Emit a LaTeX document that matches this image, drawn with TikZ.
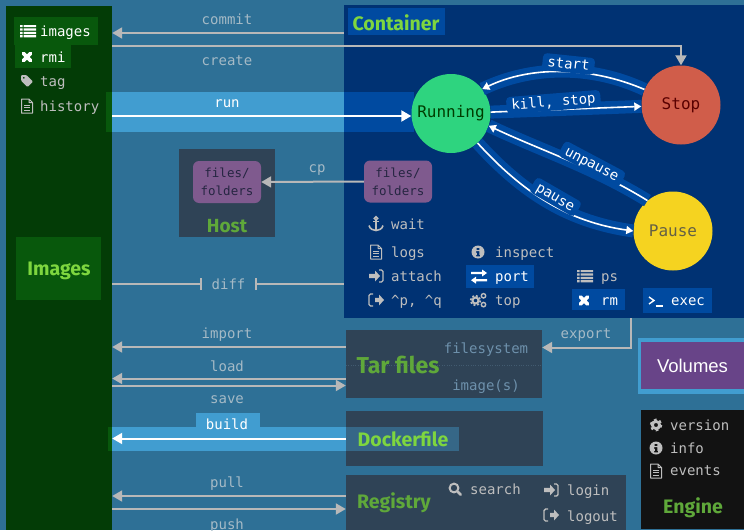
\documentclass[tikz,border=0pt]{standalone}
\usepackage{fontspec}
\setmainfont{Fira Sans}
\newfontfamily\monofam{DejaVu Sans Mono}
\newfontfamily\sansfam{Liberation Sans}
\usetikzlibrary{arrows.meta}
\tikzset{>={Triangle[length=10pt,width=11pt]}}
\definecolor{backblue}{RGB}{46,112,150}
\definecolor{imgdark}{RGB}{3,60,6}
\definecolor{imgmark}{RGB}{8,88,12}
\definecolor{contblue}{RGB}{0,50,115}
\definecolor{markblue}{RGB}{0,74,160}
\definecolor{bandblue}{RGB}{65,157,208}
\definecolor{slate}{RGB}{47,67,86}
\definecolor{purplebox}{RGB}{127,90,142}
\definecolor{volpurple}{RGB}{104,68,136}
\definecolor{darktext}{RGB}{38,38,66}
\definecolor{lgreen}{RGB}{126,214,63}
\definecolor{mgreen}{RGB}{95,168,58}
\definecolor{cmdgray}{RGB}{190,190,190}
\definecolor{linegray}{RGB}{184,184,184}
\definecolor{fadetext}{RGB}{165,186,198}
\definecolor{tarblue}{RGB}{110,145,172}
\definecolor{runfill}{RGB}{46,212,127}
\definecolor{stopfill}{RGB}{208,93,74}
\definecolor{pausefill}{RGB}{245,211,32}
\tikzset{
  region/.style={rectangle,inner sep=0pt,minimum width=#1},
  cmd/.style={font=\monofam\fontsize{14}{16}\selectfont,text=cmdgray,inner sep=0pt,
    text height=13pt,text depth=2pt,anchor=west},
  verb/.style={cmd,text=fadetext,anchor=center},
  title/.style={font=\fontsize{#1}{24}\bfseries\selectfont,inner sep=0pt,text=mgreen},
  state/.style={circle,inner sep=0pt,minimum size=79pt,
    font=\monofam\fontsize{16}{18}\selectfont},
  folders/.style={rectangle,rounded corners=6pt,fill=purplebox,text=darktext,
    minimum width=68pt,minimum height=42pt,inner sep=0pt,align=center,
    font=\monofam\fontsize{12.5}{18}\selectfont},
  greyline/.style={line width=2pt,linegray},
  halo/.style={line width=13pt,markblue},
  whiteline/.style={line width=1.6pt,white,
    >={Triangle[length=7pt,width=8pt]}},
  pill/.style={cmd,text=white,anchor=center,fill=markblue,rounded corners=4pt,
    text height=11pt,inner xsep=5pt,inner ysep=2pt},
  pics/listicon/.style={code={
    \fill (-8,-6) rectangle (-5.5,-3.8) (-4.5,-6) rectangle (8,-3.8);
    \fill (-8,-2.6) rectangle (-5.5,-0.4) (-4.5,-2.6) rectangle (8,-0.4);
    \fill (-8,0.8) rectangle (-5.5,3) (-4.5,0.8) rectangle (8,3);
    \fill (-8,4.2) rectangle (-5.5,6.4) (-4.5,4.2) rectangle (8,6.4);
  }},
  pics/crossicon/.style={code={
    \draw[line width=3.6pt,line cap=round] (-3.6,-3.6) -- (3.6,3.6) (-3.6,3.6) -- (3.6,-3.6);
  }},
  pics/tagicon/.style={code={
    \fill[even odd rule,rounded corners=1pt] (-6,-6) -- (-0.5,-6) -- (6,0.5) -- (0.5,6) -- (-6,-0.5) -- cycle
      (-3.2,-3.2) circle (1.2);
  }},
  pics/docicon/.style={code={
    \draw[line width=1pt,line join=round] (-5.5,-7) -- (2,-7) -- (5.5,-3.5) -- (5.5,7) -- (-5.5,7) -- cycle
      (2,-7) -- (2,-3.5) -- (5.5,-3.5);
    \draw[line width=1pt] (-3,-1) -- (3,-1) (-3,1.5) -- (3,1.5) (-3,4) -- (3,4);
  }},
  pics/infoicon/.style={code={
    \fill[even odd rule] (0,0) circle (6.5) (-1.3,-4.2) rectangle (1.3,-2)
      (-2,-0.8) -- (1.3,-0.8) -- (1.3,2.8) -- (2.2,2.8) -- (2.2,4.4) -- (-2,4.4) -- (-2,2.8) -- (-1.2,2.8) -- (-1.2,0.8) -- (-2,0.8) -- cycle;
  }},
  pics/gearicon/.style={code={
    \draw[line width=2.8pt] (0,0) circle (3.6);
    \draw[line width=2pt,dash pattern=on 2.7pt off 2.95pt] (0,0) circle (5.4);
  }},
  pics/cogsicon/.style={code={
    \draw[line width=2pt] (-2.5,0.5) circle (3);
    \draw[line width=1.6pt,dash pattern=on 2pt off 1.9pt] (-2.5,0.5) circle (5);
    \draw[line width=1.4pt] (5.5,-4.2) circle (2.2) (5.5,4.6) circle (2.2);
  }},
  pics/anchoricon/.style={code={
    \draw[line width=1.5pt] (0,-5.6) circle (1.7);
    \draw[line width=1.6pt] (0,-4) -- (0,6.5) (-3,-2.5) -- (3,-2.5);
    \draw[line width=1.6pt] (-7,1.5) .. controls (-6,5) and (-3,6.5) .. (0,6.5)
      .. controls (3,6.5) and (6,5) .. (7,1.5);
  }},
  pics/signinicon/.style={code={
    \fill (-7,-2.2) -- (-1,-2.2) -- (-1,-5.5) -- (4,0) -- (-1,5.5) -- (-1,2.2) -- (-7,2.2) -- cycle;
    \draw[line width=1.4pt,rounded corners=1.5pt] (3,-6) -- (7,-6) -- (7,6) -- (3,6);
  }},
  pics/signouticon/.style={code={
    \fill (-1,-2.2) -- (3,-2.2) -- (3,-5.5) -- (8,0) -- (3,5.5) -- (3,2.2) -- (-1,2.2) -- cycle;
    \draw[line width=1.4pt,rounded corners=1.5pt] (-3,-6) -- (-7,-6) -- (-7,6) -- (-3,6);
  }},
  pics/swapicon/.style={code={
    \fill (-8,-4.6) -- (3,-4.6) -- (3,-7) -- (8,-3.5) -- (3,0) -- (3,-2.4) -- (-8,-2.4) -- cycle;
    \fill (8,2.6) -- (-3,2.6) -- (-3,0.2) -- (-8,3.7) -- (-3,7.2) -- (-3,4.8) -- (8,4.8) -- cycle;
  }},
  pics/searchicon/.style={code={
    \draw[line width=2pt] (-1,-1) circle (4.4);
    \draw[line width=2.6pt,line cap=round] (2.6,2.6) -- (5.6,5.6);
  }},
  pics/prompticon/.style={code={
    \draw[line width=1.4pt] (-7,-4) -- (-2,-0.5) -- (-7,3);
    \draw[line width=1.4pt] (-0.5,5) -- (7,5);
  }},
}

\begin{document}
\begin{tikzpicture}[x=1pt,y=-1pt]
  \useasboundingbox (0,0) rectangle (744,530);
  \fill[backblue] (0,0) rectangle (744,530);

  % panels
  \node[region=106pt,minimum height=524pt,fill=imgdark] (images) at (59,268) {};
  \node[region=400pt,minimum height=313pt,fill=contblue] (container) at (544,161.5) {};
  \node[region=96pt,minimum height=88pt,fill=slate] (host) at (227,193) {};
  \node[region=196pt,minimum height=68pt,fill=slate] (tar) at (444,364) {};
  \node[region=197pt,minimum height=55pt,fill=slate] (dockerfile) at (444.5,438.5) {};
  \node[region=280pt,minimum height=55pt,fill=slate] (registry) at (486,502.5) {};
  \node[region=103pt,minimum height=119pt,fill=black!93] (engine) at (692.5,469.5) {};
  \node[region=106pt,minimum height=56pt,fill=bandblue] (volouter) at (691,366) {};
  \node[region=103pt,minimum height=47pt,fill=volpurple,text=white,
        font=\sansfam\fontsize{18.5}{20}\selectfont] (volumes) at (692.5,365.5) {Volumes};

  % highlighted strips
  \node[region=6pt,minimum height=40pt,fill=imgmark] (runtail) at (109,112) {};
  \node[region=232pt,minimum height=40pt,fill=bandblue] (runband) at (228,112) {};
  \node[region=70pt,minimum height=40pt,fill=markblue] (runcont) at (379,112) {};
  \node[region=4pt,minimum height=24pt,fill=imgmark] (buildtail) at (110,439) {};
  \node[region=234pt,minimum height=24pt,fill=bandblue] (buildband) at (229,439) {};
  \node[region=64pt,minimum height=15pt,fill=bandblue] (buildtab) at (228,420) {};
  \node[region=113pt,minimum height=24pt,fill=slate!60!bandblue] (dockmark) at (402.5,439) {};
  \node[region=84pt,minimum height=28pt,fill=imgmark] (imagesmark) at (56,31) {};
  \node[region=56pt,minimum height=23pt,fill=imgmark] (rmimark) at (43,56.5) {};
  \node[region=85pt,minimum height=63pt,fill=imgmark] (imagesbox) at (58.5,268.5) {};
  \node[region=97pt,minimum height=27pt,fill=markblue] (contmark) at (396.5,21.5) {};
  \node[region=68pt,minimum height=23pt,fill=markblue] (portmark) at (500,276.5) {};
  \node[region=53pt,minimum height=21pt,fill=markblue] (rmmark) at (598.5,299.5) {};
  \node[region=69pt,minimum height=25pt,fill=markblue] (execmark) at (677.5,300.5) {};
  \draw[slate!70!tarblue,dotted] (tar.west |- 0,365) -- (tar.east |- 0,365);

  % titles
  \node[title=19.5,text=lgreen] (contitle) at (396,22.5) {Container};
  \node[title=19.5,text=lgreen] (imgtitle) at (59,270.5) {Images};
  \node[title=19] (hosttitle) at (227,226) {Host};
  \node[title=23] (tartitle) at (398,365) {Tar files};
  \node[title=19.5,text=lgreen] (docktitle) at (403,439) {Dockerfile};
  \node[title=19.5] (regtitle) at (394,503) {Registry};
  \node[title=19.5] (engtitle) at (693,508) {Engine};

  % states
  \node[state,fill=runfill,text=black!60!green!60!black] (running) at (451,113.5) {Running};
  \node[state,fill=stopfill,text=red!35!black] (stop) at (681,105) {Stop};
  \node[state,fill=pausefill,text=black!70!yellow] (pause) at (673,231) {Pause};

  \draw[halo] (stop.157) .. controls (590,64) and (530,66) .. (running.38);
  \draw[halo] (running.2) -- (stop.182);
  \draw[halo] (pause.130) .. controls (595,168) and (540,150) .. (running.-18);
  \draw[halo] (running.-48) .. controls (525,195) and (570,222) .. (pause.180);
  \draw[whiteline,->] (stop.157) .. controls (590,66) and (530,66) .. (running.38);
  \draw[whiteline,->] (running.2) -- (stop.182);
  \draw[whiteline,->] (pause.130) .. controls (595,168) and (540,150) .. (running.-18);
  \draw[whiteline,->] (running.-48) .. controls (525,195) and (570,222) .. (pause.180);
  \node[pill,rotate=-6] (start) at (568.5,64) {start};
  \node[pill,rotate=4.5] (kill) at (553.5,102) {kill, stop};
  \node[pill,rotate=-28] (unpause) at (592,164) {unpause};
  \node[pill,rotate=-30] (pauselbl) at (555.5,197) {pause};

  % files
  \node[folders] (hostfiles) at (227,182) {files/\\folders};
  \node[folders] (contfiles) at (398,181.5) {files/\\folders};

  % connectors
  \draw[greyline,->] (container.west |- 0,33) -- (images.east |- 0,33);
  \coordinate (createbend) at (stop.north |- 0,45.5);
  \draw[greyline,->] (images.east |- 0,45.5) -- (createbend) -- (stop.north);
  \draw[line width=2pt,white,->] (images.east |- 0,116) -- (running.west |- 0,116);
  \draw[greyline,->] (contfiles.west) -- (hostfiles.east);
  \node[verb,inner xsep=9pt] (diff) at (228.5,284) {diff};
  \draw[greyline,-{Bar[width=12pt]}] (images.east |- diff) -- (diff.west);
  \draw[greyline,-{Bar[width=12pt]}] (container.west |- diff) -- (diff.east);
  \draw[greyline,->] (tar.west |- 0,347) -- (images.east |- 0,347);
  \draw[greyline,->] (tar.west |- 0,378.5) -- (images.east |- 0,378.5);
  \draw[greyline,->] (images.east |- 0,385.5) -- (tar.west |- 0,385.5);
  \coordinate (exportbend) at (631,347.5);
  \draw[greyline,->] (container.south -| exportbend) -- (exportbend) -- (tar.east |- exportbend);
  \draw[line width=2pt,white,->] (dockerfile.west |- 0,438.5) -- (images.east |- 0,438.5);
  \draw[greyline,->] (registry.west |- 0,496) -- (images.east |- 0,496);
  \draw[greyline,->] (images.east |- 0,509) -- (registry.west |- 0,509);

  % verbs between the panels
  \node[verb] (commit) at (227,19) {commit};
  \node[verb] (create) at (227,60) {create};
  \node[verb,text=white] (run) at (227,102) {run};
  \node[verb] (cp) at (317,167) {cp};
  \node[verb] (import) at (227,333) {import};
  \node[verb] (load) at (227,366) {load};
  \node[verb] (save) at (227,398) {save};
  \node[verb,text=white] (build) at (227,424) {build};
  \node[verb] (pull) at (227,482) {pull};
  \node[verb] (push) at (227,524) {push};
  \node[verb] (export) at (586,333) {export};
  \node[verb,text=tarblue] (filesystem) at (486,348) {filesystem};
  \node[verb,text=tarblue] (imagefile) at (486,385) {image(s)};

  % images commands
  \pic[white] at (28,31) {listicon};
  \node[cmd,text=white] (imagescmd) at (40,31) {images};
  \pic[white] at (27,57) {crossicon};
  \node[cmd,text=white] (rmicmd) at (40,57) {rmi};
  \pic[cmdgray] at (27,81) {tagicon};
  \node[cmd] (tagcmd) at (40,81) {tag};
  \pic[cmdgray] at (27,106) {docicon};
  \node[cmd] (historycmd) at (40,106) {history};

  % container commands
  \pic[cmdgray] at (376,224) {anchoricon};
  \node[cmd] (waitcmd) at (391,224) {wait};
  \pic[cmdgray] at (376,252) {docicon};
  \node[cmd] (logscmd) at (391,252) {logs};
  \pic[cmdgray] at (376,276) {signinicon};
  \node[cmd] (attachcmd) at (391,276) {attach};
  \pic[cmdgray] at (376,300) {signouticon};
  \node[cmd] (detachcmd) at (391,300) {\^{}p, \^{}q};
  \pic[cmdgray] at (478,252) {infoicon};
  \node[cmd] (inspectcmd) at (495,252) {inspect};
  \pic[white] at (479,276.5) {swapicon};
  \node[cmd,text=white] (portcmd) at (495,276) {port};
  \pic[cmdgray] at (478,300) {cogsicon};
  \node[cmd] (topcmd) at (495,300) {top};
  \pic[cmdgray] at (585,276) {listicon};
  \node[cmd] (pscmd) at (601,276) {ps};
  \pic[white] at (584,300.5) {crossicon};
  \node[cmd,text=white] (rmcmd) at (601,300) {rm};
  \pic[white] at (656,301) {prompticon};
  \node[cmd,text=white] (execcmd) at (671,300) {exec};

  % registry and engine commands
  \pic[cmdgray] at (455,489) {searchicon};
  \node[cmd] (searchcmd) at (470,489) {search};
  \pic[cmdgray] at (551,490) {signinicon};
  \node[cmd] (logincmd) at (567,490) {login};
  \pic[cmdgray] at (551,515) {signouticon};
  \node[cmd] (logoutcmd) at (567,516) {logout};
  \pic[cmdgray] at (656,425) {gearicon};
  \node[cmd] (versioncmd) at (670,425) {version};
  \pic[cmdgray] at (656,448) {infoicon};
  \node[cmd] (infocmd) at (670,448) {info};
  \pic[cmdgray] at (656,471) {docicon};
  \node[cmd] (eventscmd) at (670,470) {events};
\end{tikzpicture}
\end{document}
